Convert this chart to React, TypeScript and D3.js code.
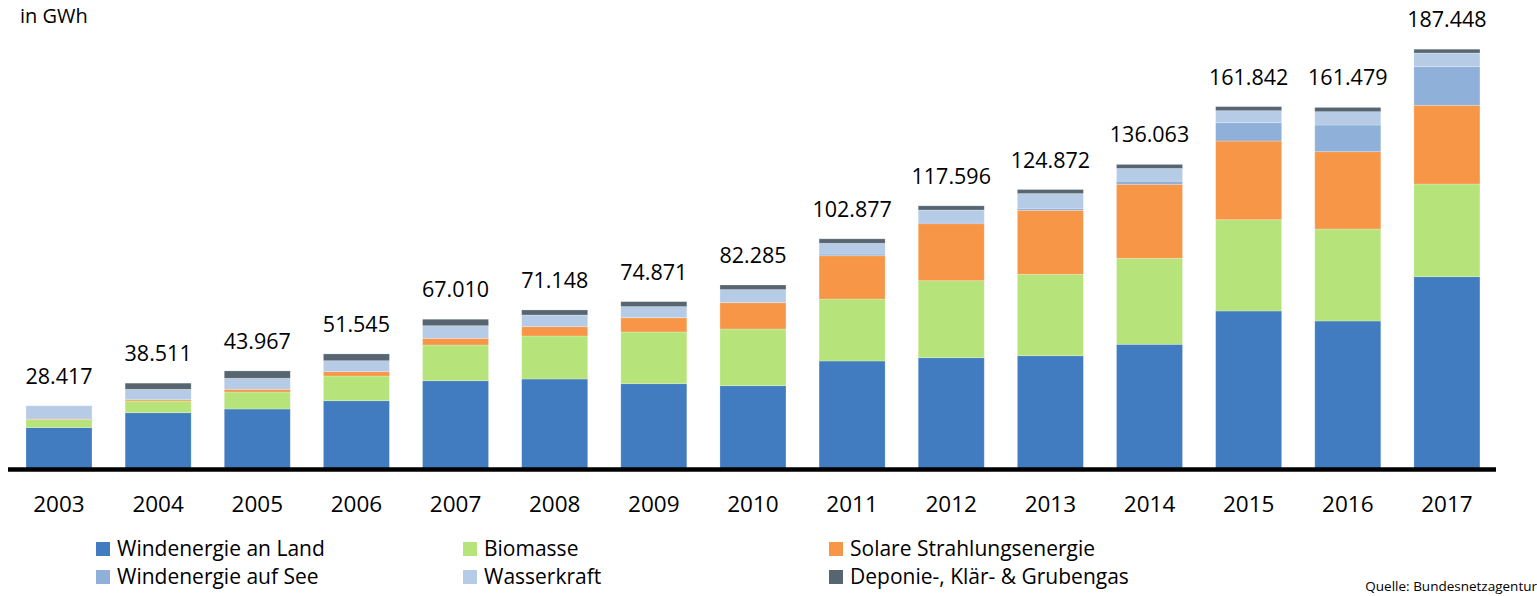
import React from "react";
import * as d3 from "d3";

const years = ["2003","2004","2005","2006","2007","2008","2009","2010","2011","2012","2013","2014","2015","2016","2017"];
const windLand = [18700, 25330, 26980, 30680, 39600, 40360, 38270, 37370, 48390, 49860, 50750, 55840, 70690, 66230, 85990];
const biomasse = [3500, 5220, 7590, 11020, 15930, 19180, 23060, 25290, 27650, 34340, 36310, 38360, 40720, 41030, 41340];
const solar = [300, 580, 1200, 1920, 2990, 4150, 6370, 11730, 19310, 25430, 28540, 33000, 35100, 34480, 35100];
const windSee = [0, 0, 0, 0, 0, 0, 40, 170, 760, 700, 900, 1400, 8160, 11910, 17220];
const wasser = [5917, 4640, 4910, 4900, 5610, 5220, 4910, 5670, 4780, 5400, 6550, 5660, 5350, 5930, 6110];
const gas = [0, 2741, 3287, 3025, 2880, 2238, 2221, 2055, 1987, 1866, 1822, 1803, 1822, 1899, 1688];
const totalLabels = ["28.417","38.511","43.967","51.545","67.010","71.148","74.871","82.285","102.877","117.596","124.872","136.063","161.842","161.479","187.448"];

const seriesKeys = ["windLand","biomasse","solar","windSee","wasser","gas"];
const seriesNames = ["Windenergie an Land","Biomasse","Solare Strahlungsenergie","Windenergie auf See","Wasserkraft","Deponie-, Klär- & Grubengas"];
const colors = ["#407CBF","#B6E47A","#F79646","#8EB0D9","#B5CBE6","#56656F"];

const FONT = "'Open Sans', 'Noto Sans', sans-serif";

export default function App() {
  const width = 1537, height = 596;
  const rows = years.map((y, i) => ({
    year: y,
    windLand: windLand[i], biomasse: biomasse[i], solar: solar[i],
    windSee: windSee[i], wasser: wasser[i], gas: gas[i],
  }));
  const stacked = d3.stack<any>().keys(seriesKeys)(rows);
  const x = d3.scaleBand<string>().domain(years).range([9.43, 1496.5]).paddingInner(0.334).paddingOuter(0.167);
  const y = d3.scaleLinear().domain([0, 187448]).range([469.5, 49.2]);
  const totals = rows.map((r) => seriesKeys.reduce((s, k) => s + (r as any)[k], 0));

  const legendCols = [96, 463, 829];
  const legendRows = [556, 584];

  return (
    <svg width={width} height={height} style={{ position: "absolute", left: 0, top: 0, background: "#fff" }} fontFamily={FONT}>
      <text x={20} y={23} fontSize={20} fill="#000">in GWh</text>
      {stacked.map((s, si) => (
        <g key={si} fill={colors[si]}>
          {s.map((d, i) => {
            const h = y(d[0]) - y(d[1]);
            if (h <= 0) return null;
            return (
              <rect key={i} x={x(years[i])} y={y(d[1])} width={x.bandwidth()} height={h}
                stroke="#ffffff" strokeOpacity={0.3} strokeWidth={0.8} />
            );
          })}
        </g>
      ))}
      <line x1={8} x2={1496} y1={469.5} y2={469.5} stroke="#000" strokeWidth={4.5} />
      {years.map((yr, i) => (
        <text key={yr} x={(x(yr) as number) + x.bandwidth() / 2} y={y(totals[i]) - 22}
          textAnchor="middle" fontSize={21.5} fill="#000">{totalLabels[i]}</text>
      ))}
      {years.map((yr) => (
        <text key={"t" + yr} x={(x(yr) as number) + x.bandwidth() / 2} y={512}
          textAnchor="middle" fontSize={22.5} fill="#000">{yr}</text>
      ))}
      {seriesNames.map((name, i) => {
        const col = i % 3, row = Math.floor(i / 3);
        const lx = legendCols[col], ly = legendRows[row];
        return (
          <g key={name}>
            <rect x={lx} y={ly - 14} width={14} height={14} fill={colors[i]} />
            <text x={lx + 21} y={ly} fontSize={21} fill="#000">{name}</text>
          </g>
        );
      })}
      <text x={1537} y={591} textAnchor="end" fontSize={13.5} fill="#000">Quelle: Bundesnetzagentur</text>
    </svg>
  );
}
